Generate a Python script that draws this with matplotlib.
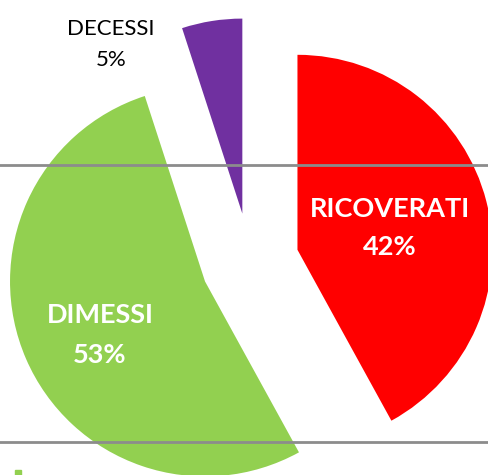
import matplotlib.pyplot as plt
from matplotlib.patches import Rectangle

# dati
categorie = ["RICOVERATI", "DIMESSI", "DECESSI"]
percentuali = [42, 53, 5]
colori = ["#FF0000", "#92D050", "#7030A0"]

W, H = 488, 475
fig = plt.figure(figsize=(W / 100, H / 100), dpi=100)
ax = fig.add_axes([0, 0, 1, 1])

# centro e raggio in pixel (y dal basso)
cx, cy = 250, H - 262
raggio = 195
stacco = 49  # in pixel, pie non lo scala col raggio

ax.pie(percentuali, colors=colori, startangle=90, counterclock=False,
       explode=[stacco] * 3, radius=raggio, center=(cx, cy),
       wedgeprops=dict(linewidth=0))

ax.set_xlim(0, W)
ax.set_ylim(0, H)
ax.set_aspect("auto")
ax.axis("off")

# linee grigie orizzontali
for yy in [H - 165, H - 442]:
    ax.axhline(yy, color="#8c8c8c", lw=2, zorder=5)

# frammento della legenda
ax.add_patch(Rectangle((15, 0), 6, 5, color=colori[1], zorder=6))

font = ["Lato", "DejaVu Sans"]
# (x centro, baseline riga 1, baseline riga 2, colore, peso, dimensione)
etichette = [
    (390, 217, 255, "white", "bold", 19.5),
    (100, 323, 363, "white", "bold", 19.5),
    (111, 35, 66, "black", "normal", 16),
]
for i, (x, b1, b2, c, w, s) in enumerate(etichette):
    ax.text(x, H - b1, categorie[i], color=c, fontsize=s, fontweight=w,
            ha="center", va="baseline", family=font, zorder=7)
    ax.text(x, H - b2, "%d%%" % percentuali[i], color=c, fontsize=s, fontweight=w,
            ha="center", va="baseline", family=font, zorder=7)

fig.savefig("out.png", dpi=100)
